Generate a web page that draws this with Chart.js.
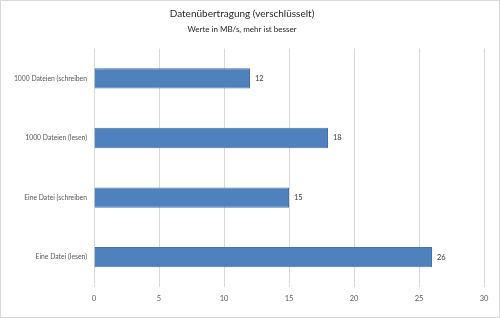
<!DOCTYPE html>
<html>
<head>
<meta charset="utf-8">
<script src="https://cdn.jsdelivr.net/npm/chart.js@4"></script>
<style>
  html, body { margin: 0; padding: 0; background: #fff; }
  #wrap { width: 500px; height: 318px; position: relative; }
</style>
</head>
<body>
<div id="wrap"><canvas id="c" width="500" height="318"></canvas></div>
<script>
const categories = ["1000 Dateien (schreiben", "1000 Dateien (lesen)", "Eine Datei (schreiben", "Eine Datei (lesen)"];
const values = [12, 18, 15, 26];
const axisMin = 0;
const axisMax = 30;
const axisStep = 5;
const titleText = "Datenübertragung (verschlüsselt)";
const subtitleText = "Werte in MB/s, mehr ist besser";

const FONT = "Lato, 'Open Sans', sans-serif";

const frame = {
  id: 'frame',
  beforeDraw(chart) {
    const ctx = chart.ctx;
    ctx.save();
    ctx.fillStyle = '#ffffff';
    ctx.fillRect(0, 0, chart.width, chart.height);
    ctx.restore();
  },
  afterDraw(chart) {
    const ctx = chart.ctx;
    ctx.save();
    ctx.strokeStyle = '#d9d9d9';
    ctx.lineWidth = 1;
    ctx.strokeRect(0.5, 0.5, chart.width - 1, chart.height - 1);
    ctx.restore();
  }
};

const valueLabels = {
  id: 'valueLabels',
  afterDatasetsDraw(chart) {
    const ctx = chart.ctx;
    ctx.save();
    ctx.font = "7.5px " + FONT;
    ctx.fillStyle = '#404040';
    ctx.textAlign = 'left';
    ctx.textBaseline = 'middle';
    chart.data.datasets.forEach((ds, di) => {
      chart.getDatasetMeta(di).data.forEach((bar, i) => {
        ctx.fillText(String(ds.data[i]), bar.x + 5, bar.y);
      });
    });
    ctx.restore();
  }
};

new Chart(document.getElementById('c'), {
  type: 'bar',
  data: {
    labels: categories,
    datasets: [{
      data: values,
      backgroundColor: '#4f81bd',
      borderColor: '#4372ab',
      borderWidth: 1,
      barPercentage: 0.34,
      categoryPercentage: 1
    }]
  },
  options: {
    indexAxis: 'y',
    responsive: false,
    animation: false,
    devicePixelRatio: 1,
    layout: { padding: { left: 0, right: 16, top: 0, bottom: 0 } },
    plugins: {
      legend: { display: false },
      tooltip: { enabled: false },
      title: {
        display: true,
        text: titleText,
        color: '#262626',
        font: { family: FONT, size: 10, weight: 'normal', lineHeight: 1.2 },
        padding: { top: 8, bottom: 0 }
      },
      subtitle: {
        display: true,
        text: subtitleText,
        color: '#262626',
        font: { family: FONT, size: 8, weight: 'normal', lineHeight: 1.2 },
        padding: { top: 5, bottom: 14 }
      }
    },
    scales: {
      x: {
        min: axisMin,
        max: axisMax,
        ticks: { stepSize: axisStep, color: '#595959', font: { family: FONT, size: 7.5 }, padding: 7 },
        grid: { color: '#d9d9d9', drawTicks: false },
        border: { display: false },
        afterFit(scale) { scale.height = 31; }
      },
      y: {
        ticks: { color: '#595959', font: { family: FONT, size: 6.8 }, padding: 7 },
        grid: { display: false, drawTicks: false },
        border: { display: false },
        afterFit(scale) { scale.width = 94; }
      }
    }
  },
  plugins: [frame, valueLabels]
});
</script>
</body>
</html>
